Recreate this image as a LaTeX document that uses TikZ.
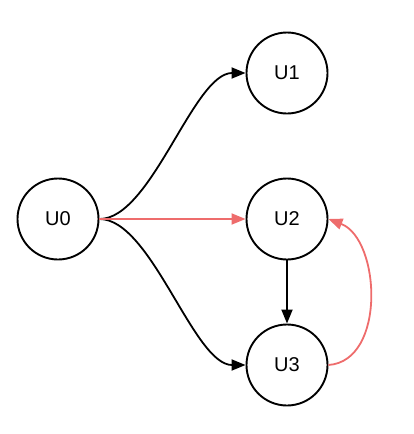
\documentclass[tikz,border=0pt]{standalone}
\usepackage{fontspec}
\setmainfont{Liberation Sans}
\usetikzlibrary{arrows.meta}
\definecolor{redline}{RGB}{238,108,108}
\begin{document}
\begin{tikzpicture}[x=1pt,y=-1pt,
  unode/.style={circle,draw=black,line width=1.9pt,minimum size=81pt,inner sep=0pt,font=\fontsize{20}{22}\selectfont},
  blk/.style={draw=black,line width=1.8pt,-{Triangle[length=14pt,width=11pt]}},
  red/.style={draw=redline,line width=1.8pt,-{Triangle[length=14pt,width=11pt]}}]
\useasboundingbox (0,0) rectangle (413,434);
\node[unode] (u0) at (58,219) {U0};
\node[unode] (u1) at (287,73) {U1};
\node[unode] (u2) at (287,219) {U2};
\node[unode] (u3) at (287,365) {U3};
\draw[blk] (u0.east) .. controls +(52,0) and +(-52,0) .. (u1.west);
\draw[blk] (u0.east) .. controls +(52,0) and +(-52,0) .. (u3.west);
\draw[red] (u0.east) -- (u2.west);
\draw[blk] (u2.south) -- (u3.north);
\draw[red] (u3.east) .. controls +(58,-4) and +(52,20) .. (u2.east);
\end{tikzpicture}
\end{document}
